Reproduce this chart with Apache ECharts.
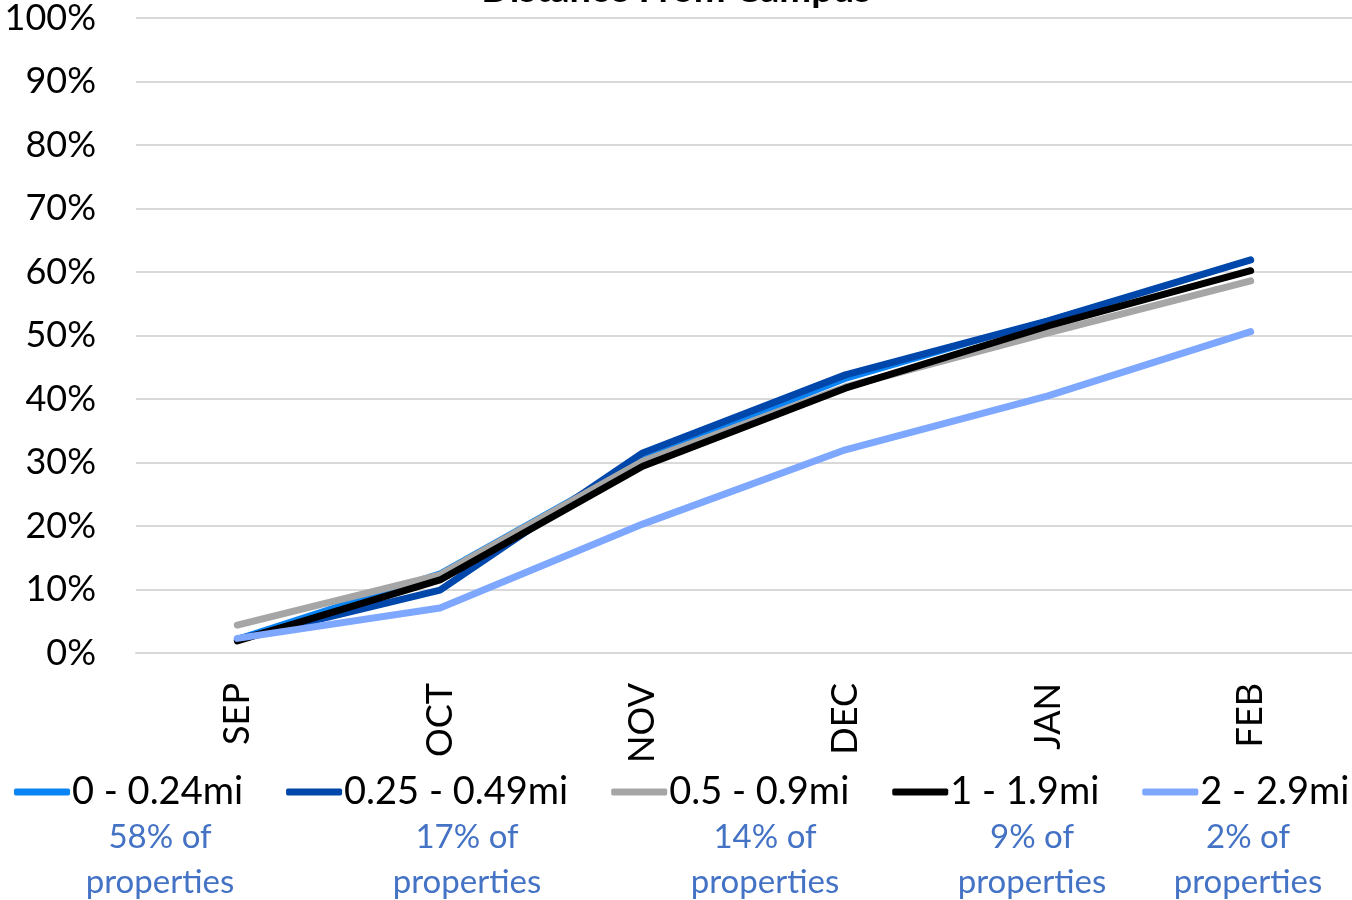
<!DOCTYPE html>
<html>
<head>
<meta charset="utf-8">
<script src="https://cdn.jsdelivr.net/npm/echarts@6/dist/echarts.min.js"></script>
<style>
  html, body { margin: 0; padding: 0; background: #fff; }
  #chart { width: 1352px; height: 900px; }
</style>
</head>
<body>
<div id="chart"></div>
<script>
// Months on the x axis
const months = ['SEP', 'OCT', 'NOV', 'DEC', 'JAN', 'FEB'];

// Cumulative share (%) by distance band
const band0to024 = [2.3, 12.6, 30.5, 43.1, 52.4, 61.8];
const band025to049 = [2.2, 9.9, 31.5, 43.8, 52.3, 61.9];
const band05to09 = [4.4, 12.3, 30.2, 41.9, 50.4, 58.6];
const band1to19 = [1.9, 11.5, 29.4, 41.7, 51.5, 60.2];
const band2to29 = [2.3, 7.1, 20.3, 32.0, 40.5, 50.6];

// Legend names and share of properties in each band
const bandNames = ['0 - 0.24mi', '0.25 - 0.49mi', '0.5 - 0.9mi', '1 - 1.9mi', '2 - 2.9mi'];
const bandShares = ['58% of', '17% of', '14% of', '9% of', '2% of'];
const yTicks = [0, 10, 20, 30, 40, 50, 60, 70, 80, 90, 100];

const FONT = 'Lato, "Open Sans", sans-serif';
const colors = ['#0A84F5', '#0047AB', '#A6A6A6', '#000000', '#7EA7FF'];
const widths = [5, 7, 7, 7, 7];
const seriesData = [band0to024, band025to049, band05to09, band1to19, band2to29];

// Sub-caption centres under each legend entry
const shareX = [160, 467, 765, 1032, 1248];

const chart = echarts.init(document.getElementById('chart'), null, { renderer: 'canvas' });

chart.setOption({
  backgroundColor: '#ffffff',
  animation: false,
  title: {
    text: 'Distance From Campus',
    left: 'center',
    top: -34,
    textStyle: { fontFamily: FONT, fontWeight: 'bold', fontSize: 38, color: '#000' }
  },
  grid: { left: 136, width: 1217, top: 18, bottom: 247, containLabel: false },
  xAxis: {
    type: 'category',
    data: months,
    boundaryGap: true,
    axisLine: { show: true, lineStyle: { color: '#D9D9D9', width: 2 } },
    axisTick: { show: false },
    axisLabel: {
      rotate: 90,
      margin: 30,
      fontFamily: FONT,
      fontSize: 36,
      color: '#000'
    }
  },
  yAxis: {
    type: 'value',
    min: yTicks[0],
    max: yTicks[yTicks.length - 1],
    interval: yTicks[1] - yTicks[0],
    axisLine: { show: false },
    axisTick: { show: false },
    splitLine: { lineStyle: { color: '#D9D9D9', width: 2 } },
    axisLabel: {
      formatter: '{value}%',
      margin: 40,
      fontFamily: FONT,
      fontSize: 36,
      color: '#000'
    }
  },
  legend: {
    left: 14,
    top: 773,
    padding: 0,
    itemGap: 43,
    itemWidth: 56,
    itemHeight: 7,
    icon: 'roundRect',
    textStyle: { fontFamily: FONT, fontSize: 38, color: '#000', padding: [0, 0, 0, -3] },
    data: bandNames.map((n, i) => ({ name: n, itemStyle: { color: colors[i] } }))
  },
  graphic: bandShares.map((s, i) => ({
    type: 'text',
    x: shareX[i],
    y: 815,
    style: {
      text: s + '\nproperties',
      fontFamily: FONT,
      fontSize: 33,
      lineHeight: 45,
      fill: '#4472C4',
      align: 'center',
      verticalAlign: 'top'
    }
  })),
  series: seriesData.map((d, i) => ({
    name: bandNames[i],
    type: 'line',
    data: d,
    showSymbol: false,
    symbol: 'none',
    color: colors[i],
    lineStyle: { color: colors[i], width: widths[i], cap: 'round', join: 'round' }
  }))
});
</script>
</body>
</html>
